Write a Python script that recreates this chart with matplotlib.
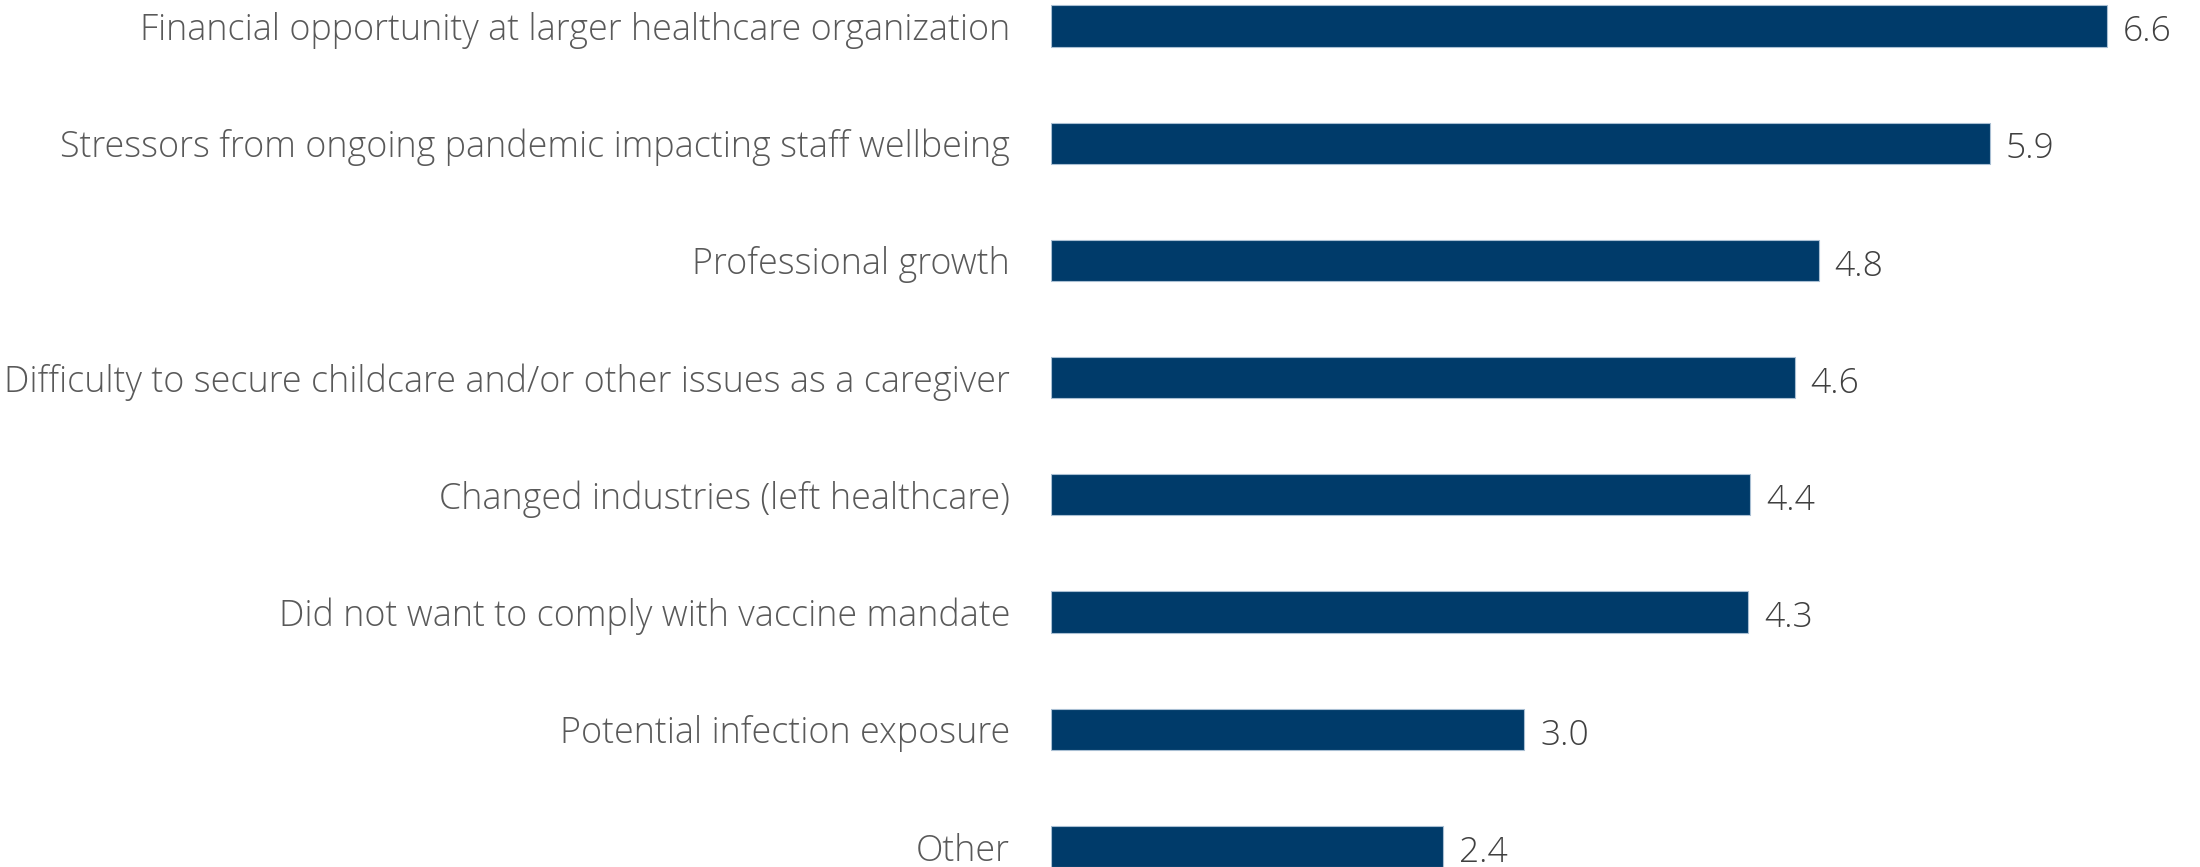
import matplotlib
matplotlib.use("Agg")
import matplotlib.pyplot as plt

categories = [
    "Financial opportunity at larger healthcare organization",
    "Stressors from ongoing pandemic impacting staff wellbeing",
    "Professional growth",
    "Difficulty to secure childcare and/or other issues as a caregiver",
    "Changed industries (left healthcare)",
    "Did not want to comply with vaccine mandate",
    "Potential infection exposure",
    "Other",
]
# bar lengths
values = [6.60, 5.87, 4.80, 4.65, 4.37, 4.36, 2.96, 2.45]
# printed value labels
value_labels = ["6.6", "5.9", "4.8", "4.6", "4.4", "4.3", "3.0", "2.4"]

plt.rcParams['font.family'] = ['Open Sans', 'DejaVu Sans']

W, H = 2200, 867
fig = plt.figure(figsize=(W / 100, H / 100), dpi=100)
zero_px = 1050.7
unit_px = 160.0
x0 = zero_px / W
ax = fig.add_axes([x0, 0, 1 - x0, 1])

pitch = 117.3
ypos = list(range(len(categories)))
ax.barh(ypos, values, height=41.3 / pitch, color="#003b6a", edgecolor="#a9bfd3", linewidth=0.8)
ax.set_xlim(0, (W - zero_px) / unit_px)
ax.set_ylim(7 + (867 - 846.5) / pitch, -26 / pitch)

for y, v, lab in zip(ypos, values, value_labels):
    ax.annotate(lab, (v, y), xytext=(16, -6), textcoords="offset pixels",
                ha="left", va="center", fontsize=25.5, color="#404040", fontweight="light")

ax.set_yticks(ypos)
ax.set_yticklabels(categories, fontsize=25.8, color="#595959", fontweight="light")
ax.tick_params(axis="y", length=0, pad=29.3)
ax.set_xticks([])
for s in ax.spines.values():
    s.set_visible(False)

fig.savefig("out.png", dpi=100, facecolor="white")
